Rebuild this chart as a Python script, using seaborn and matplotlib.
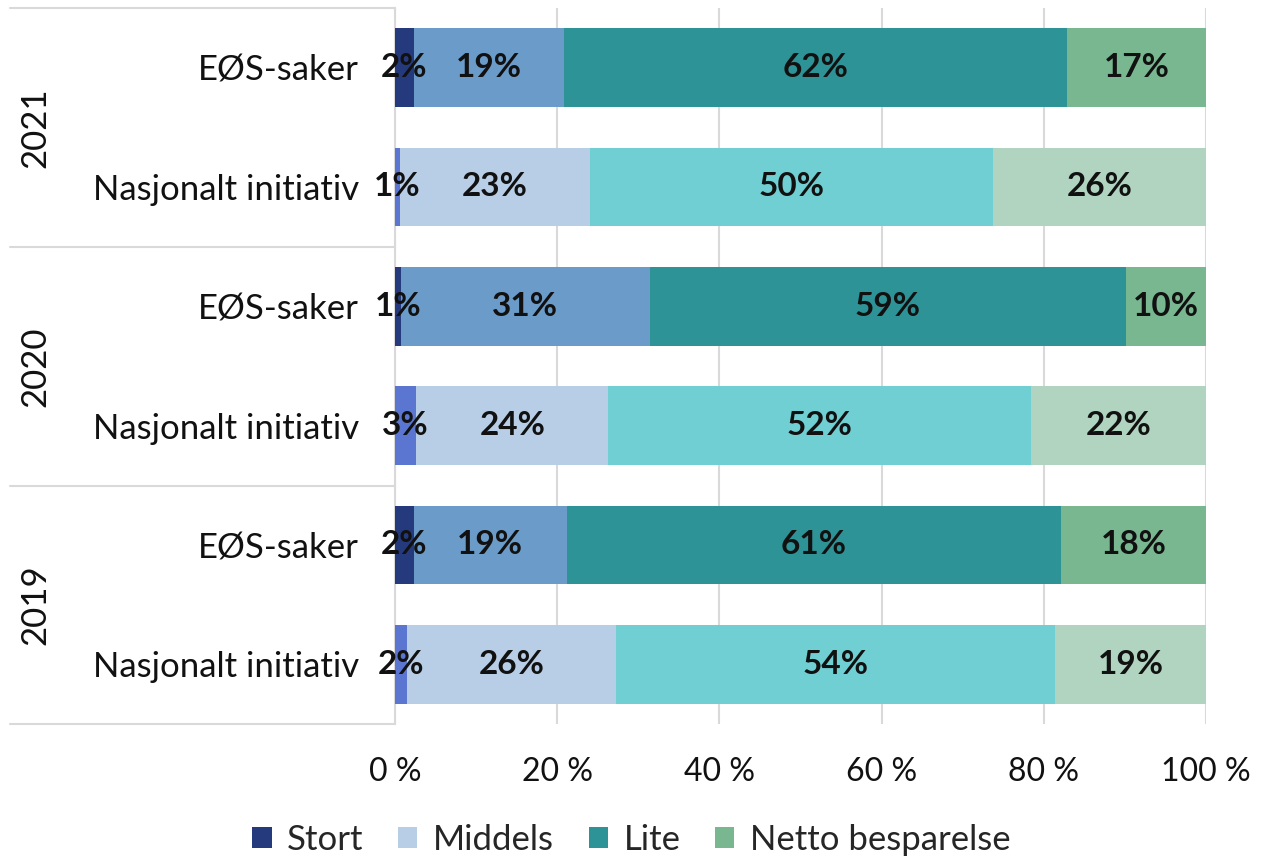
import matplotlib
matplotlib.use("Agg")
import matplotlib.pyplot as plt
from matplotlib.lines import Line2D
from matplotlib.patches import Patch
import seaborn as sns
import pandas as pd
import numpy as np

# ---- data (top to bottom) ----
years = ["2021", "2020", "2019"]
row_types = ["EØS-saker", "Nasjonalt initiativ"]
segments = ["Stort", "Middels", "Lite", "Netto besparelse"]
stort = [2.3, 0.6, 0.7, 2.6, 2.3, 1.5]
middels = [18.6, 23.4, 30.7, 23.7, 18.9, 25.7]
lite = [62.0, 49.7, 58.7, 52.1, 60.9, 54.2]
netto = [17.1, 26.3, 9.9, 21.6, 17.9, 18.6]
x_ticks = [0, 20, 40, 60, 80, 100]
x_ticklabels = ["0 %", "20 %", "40 %", "60 %", "80 %", "100 %"]

colors_eos = ["#253a7c", "#6b9bc9", "#2e9396", "#79b791"]
colors_ni = ["#5b76d1", "#b8cee6", "#70cfd3", "#b0d4c0"]
legend_colors = ["#253a7c", "#b8cee6", "#2e9396", "#79b791"]

sns.set_theme(style="white")
plt.rcParams["font.family"] = ["Lato", "DejaVu Sans"]
FS_Y = 25
FS_X = 23
FS_L = 24
FS_LEG = 25

rows = []
for yi, yr in enumerate(years):
    for ti, t in enumerate(row_types):
        rows.append((f"{yr} {t}", t))
row_ids = [r[0] for r in rows]
types = [r[1] for r in rows]
vals = np.array([stort, middels, lite, netto]).T  # rows x segments
cum = np.cumsum(vals, axis=1)

df = pd.DataFrame({"row": row_ids, "type": types})
for k in range(4):
    df[f"cum{k}"] = cum[:, k]

fig = plt.figure(figsize=(12.63, 8.58), dpi=100)
ax = fig.add_axes([395 / 1263, 1 - 724 / 858, (1206 - 395) / 1263, (724 - 8) / 858])

for k in range(3, -1, -1):
    pal = {row_types[0]: colors_eos[k], row_types[1]: colors_ni[k]}
    sns.barplot(data=df, y="row", x=f"cum{k}", hue="type", palette=pal,
                dodge=False, legend=False, width=0.66, ax=ax, order=row_ids,
                saturation=1, linewidth=0, zorder=3)

# labels
for i in range(len(row_ids)):
    for k in range(4):
        left = cum[i, k] - vals[i, k]
        c = left + vals[i, k] / 2
        ax.text(c, i, f"{round(vals[i, k])}%", ha="center", va="center",
                fontsize=FS_L, fontweight="bold", color="#111111", zorder=5)

ax.set_xlim(0, 100)
ax.set_ylim(len(row_ids) - 0.5, -0.5)
ax.set_xticks(x_ticks)
ax.set_xticklabels(x_ticklabels, fontsize=FS_X)
ax.set_yticks(range(len(row_ids)))
ax.set_yticklabels(types, fontsize=FS_Y)
ax.tick_params(axis="y", length=0, pad=26)
ax.tick_params(axis="x", length=0, pad=24)
ax.set_xlabel("")
ax.set_ylabel("")
ax.grid(axis="x", color="#d9d9d9", linewidth=1.5, zorder=0)
ax.grid(axis="y", visible=False)
for s in ["top", "right", "bottom"]:
    ax.spines[s].set_visible(False)
ax.spines["left"].set_color("#d9d9d9")
ax.spines["left"].set_linewidth(1.5)
ax.set_axisbelow(True)

# group separators and year labels
bounds = [8, 247, 486, 724]
for b in bounds:
    fig.add_artist(Line2D([10 / 1263, 395 / 1263], [1 - b / 858, 1 - b / 858],
                          color="#d9d9d9", linewidth=1.5))
for yi, yr in enumerate(years):
    yc = (bounds[yi] + bounds[yi + 1]) / 2
    fig.text(35 / 1263, 1 - yc / 858, yr, rotation=90, ha="center", va="center",
             fontsize=FS_Y, color="#111111")

handles = [Patch(facecolor=c, edgecolor="none") for c in legend_colors]
fig.legend(handles, segments, loc="center", bbox_to_anchor=(0.5, 18 / 858), ncol=4,
           frameon=False, fontsize=FS_LEG, handlelength=0.55, handleheight=0.55,
           handletextpad=0.45, columnspacing=1.0, borderpad=0)

for t in ax.get_yticklabels() + ax.get_xticklabels():
    t.set_color("#111111")

fig.savefig("out.png", dpi=100)
